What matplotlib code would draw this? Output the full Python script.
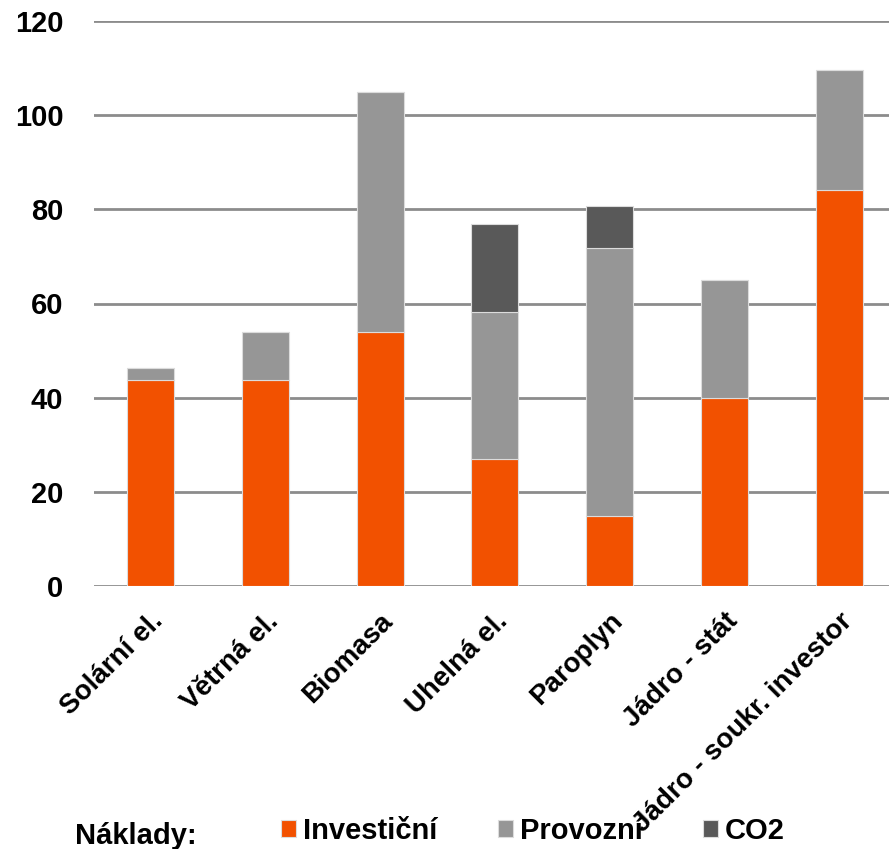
import matplotlib
matplotlib.use("Agg")
import matplotlib.pyplot as plt
import numpy as np

plt.rcParams['font.family'] = ['Liberation Sans', 'DejaVu Sans']

categories = ["Solární el.", "Větrná el.", "Biomasa", "Uhelná el.", "Paroplyn",
              "Jádro - stát", "Jádro - soukr. investor"]
investicni = [43.8, 43.8, 54.0, 26.9, 14.9, 40.0, 84.1]
provozni = [2.4, 10.2, 51.0, 31.2, 56.8, 24.9, 25.5]
co2 = [0, 0, 0, 18.7, 9.0, 0, 0]
series_names = ["Investiční", "Provozní", "CO2"]
colors = ["#F25100", "#969696", "#595959"]
yticks = [0, 20, 40, 60, 80, 100, 120]

fig = plt.figure(figsize=(8.89, 8.49), dpi=100)
ax = fig.add_axes([94 / 889, 1 - 586 / 849, 1 - 94 / 889, (586 - 21) / 849])

x = np.arange(len(categories))
width = 0.41
bottom = np.zeros(len(categories))
handles = []
for vals, name, col in zip([investicni, provozni, co2], series_names, colors):
    vals = np.array(vals, dtype=float)
    b = ax.bar(x, vals, width, bottom=bottom, color=col, edgecolor="#dcdcdc",
               linewidth=0.8, label=name, zorder=3)
    handles.append(b)
    bottom += vals

ax.set_ylim(0, 120)
ax.set_xlim(-0.49, 6.43)
ax.set_yticks(yticks)
ax.set_yticklabels([str(t) for t in yticks], fontsize=21, fontweight="bold")
ax.yaxis.grid(True, color="#8c8c8c", linewidth=2, zorder=0)
ax.set_axisbelow(True)
ax.tick_params(axis="y", length=0, pad=22)
ax.tick_params(axis="x", length=0)
for s in ax.spines.values():
    s.set_visible(False)

ax.set_xticks(x)
ax.set_xticklabels(categories, rotation=45, ha="right", va="top",
                   rotation_mode="anchor", fontsize=20, fontweight="bold")
ax.tick_params(axis="x", pad=16)

fig.text(75 / 889, 1 - 836 / 849, "Náklady:", fontsize=21, fontweight="bold",
         va="center", ha="left")
fig.legend(handles=handles, labels=series_names, loc="center left",
           bbox_to_anchor=(281 / 889, 1 - 831 / 849), ncol=3, frameon=False,
           prop={"size": 21, "weight": "bold"}, handlelength=0.52,
           handleheight=0.52, handletextpad=0.25, columnspacing=2.05,
           borderaxespad=0, borderpad=0)

fig.savefig("out.png", dpi=100)
